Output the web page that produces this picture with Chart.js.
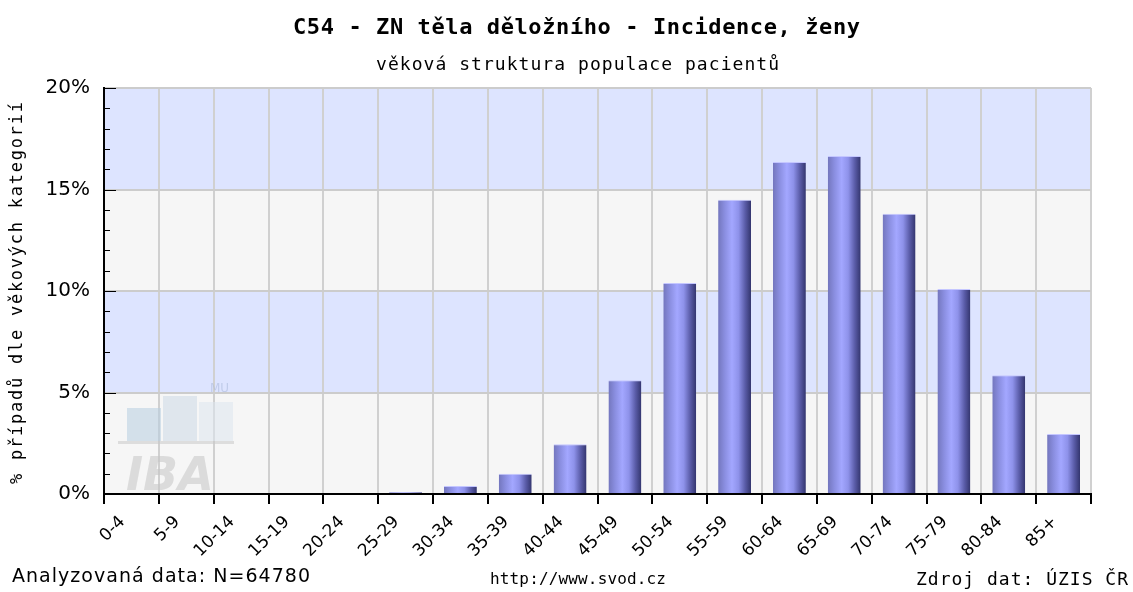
<!DOCTYPE html>
<html>
<head>
<meta charset="utf-8">
<script src="https://cdn.jsdelivr.net/npm/chart.js@4/dist/chart.umd.min.js"></script>
<style>
    html, body { margin: 0; padding: 0; background: #fff; }
    #wrap { width: 1133px; height: 592px; }
</style>
</head>
<body>
<div id="wrap"><canvas id="chart" width="1133" height="592"></canvas></div>
<script>
// age groups and share of cases (%)
const age_groups = ['0-4', '5-9', '10-14', '15-19', '20-24', '25-29', '30-34', '35-39', '40-44',
    '45-49', '50-54', '55-59', '60-64', '65-69', '70-74', '75-79', '80-84', '85+'];
const case_share = [0, 0, 0, 0, 0, 0.1, 0.4, 1.0, 2.45, 5.6, 10.4, 14.5, 16.35, 16.65, 13.8, 10.1, 5.85, 2.95];
const y_ticks = [0, 5, 10, 15, 20];

const chartTitle = 'C54 - ZN těla děložního - Incidence, ženy';
const chartSubtitle = 'věková struktura populace pacientů';
const yTitle = '% případů dle věkových kategorií';
const footLeft = 'Analyzovaná data: N=64780';
const footMid = 'http://www.svod.cz';
const footRight = 'Zdroj dat: ÚZIS ČR';

const mono = '"DejaVu Sans Mono", "Liberation Mono", monospace';
const sans = '"DejaVu Sans", Verdana, sans-serif';

// draw text char by char so it fills a given width (the original uses a wide bitmap font)
function spacedText(ctx, text, x, y, width) {
    const chars = Array.from(text);
    const widths = chars.map(c => ctx.measureText(c).width);
    const total = widths.reduce((a, b) => a + b, 0);
    const extra = chars.length > 1 ? (width - total) / (chars.length - 1) : 0;
    let cx = x;
    ctx.textAlign = 'left';
    chars.forEach((c, i) => {
        ctx.fillText(c, cx, y);
        cx += widths[i] + extra;
    });
}

// light grey / light blue bands behind the plot
const bandsPlugin = {
    id: 'bands',
    beforeDraw(chart) {
        const { ctx, chartArea, scales } = chart;
        ctx.save();
        for (let i = 0; i < y_ticks.length - 1; i++) {
            const y1 = scales.y.getPixelForValue(y_ticks[i]);
            const y2 = scales.y.getPixelForValue(y_ticks[i + 1]);
            ctx.fillStyle = i % 2 === 0 ? '#f6f6f6' : '#dde4ff';
            ctx.fillRect(chartArea.left, y2, chartArea.right - chartArea.left, y1 - y2);
        }
        ctx.restore();
    }
};

// IBA watermark + inner tick marks on y axis
const decoPlugin = {
    id: 'deco',
    beforeDatasetsDraw(chart) {
        const { ctx, chartArea, scales } = chart;
        ctx.save();
        ctx.globalAlpha = 0.55;
        ctx.fillStyle = '#b7cde0';
        ctx.fillRect(127, 408, 34, 33);
        ctx.fillStyle = '#ccd9e6';
        ctx.fillRect(163, 396, 34, 45);
        ctx.fillStyle = '#dde5ee';
        ctx.fillRect(199, 402, 34, 39);
        ctx.fillStyle = '#c8c8c8';
        ctx.fillRect(118, 441, 116, 3);
        ctx.fillStyle = '#c4c4c4';
        ctx.font = 'italic bold 46px ' + sans;
        ctx.textBaseline = 'alphabetic';
        ctx.fillText('IBA', 126, 490);
        ctx.fillStyle = '#aab8d8';
        ctx.font = '12px ' + sans;
        ctx.fillText('MU', 210, 392);
        ctx.restore();

        ctx.save();
        ctx.strokeStyle = '#000';
        ctx.lineWidth = 1;
        for (let v = 0; v <= 20; v++) {
            const y = Math.round(scales.y.getPixelForValue(v)) + 0.5;
            const len = v % 5 === 0 ? 12 : 6;
            ctx.beginPath();
            ctx.moveTo(chartArea.left, y);
            ctx.lineTo(chartArea.left + len, y);
            ctx.stroke();
        }
        ctx.restore();
    }
};

// titles, axis title and footer texts
const textPlugin = {
    id: 'texts',
    afterDraw(chart) {
        const ctx = chart.ctx;
        ctx.save();
        ctx.fillStyle = '#000';
        ctx.textBaseline = 'middle';

        ctx.font = 'bold 22px ' + mono;
        spacedText(ctx, chartTitle, 293, 28, 567);
        ctx.font = '18px ' + mono;
        spacedText(ctx, chartSubtitle, 376, 65, 403);

        ctx.save();
        ctx.translate(18, 484);
        ctx.rotate(-Math.PI / 2);
        ctx.font = '17px ' + mono;
        spacedText(ctx, yTitle, 0, 0, 382);
        ctx.restore();

        ctx.font = '19px ' + sans;
        spacedText(ctx, footLeft, 12, 577, 298);
        ctx.font = '16px ' + mono;
        spacedText(ctx, footMid, 490, 580, 176);
        ctx.font = '18px ' + mono;
        spacedText(ctx, footRight, 916, 580, 212);
        ctx.restore();
    }
};

function barGradient(context) {
    const chart = context.chart;
    const xs = chart.scales.x;
    if (!xs || !chart.chartArea) return '#9a9ef0';
    const x = xs.getPixelForValue(context.dataIndex);
    const w = (xs.width / age_groups.length) * 0.6;
    const g = chart.ctx.createLinearGradient(x - w / 2, 0, x + w / 2, 0);
    g.addColorStop(0, '#7376bd');
    g.addColorStop(0.2, '#8a8ee0');
    g.addColorStop(0.42, '#a3a7ff');
    g.addColorStop(0.62, '#8e92ea');
    g.addColorStop(0.82, '#5a5ca8');
    g.addColorStop(1, '#33356e');
    return g;
}

new Chart(document.getElementById('chart'), {
    type: 'bar',
    data: {
        labels: age_groups,
        datasets: [{
            data: case_share,
            backgroundColor: barGradient,
            borderColor: '#c4c6ff',
            borderWidth: { top: 1, left: 0, right: 0, bottom: 0 },
            borderSkipped: 'bottom',
            barPercentage: 0.6,
            categoryPercentage: 1.0
        }]
    },
    options: {
        responsive: false,
        animation: false,
        layout: { padding: { left: 0, right: 42, top: 88, bottom: 28 } },
        plugins: {
            legend: { display: false },
            tooltip: { enabled: false }
        },
        scales: {
            x: {
                grid: {
                    offset: true,
                    color: '#d0d0d0',
                    lineWidth: 2,
                    tickColor: '#000',
                    tickLength: 10,
                    tickWidth: 2
                },
                border: { color: '#000', width: 2 },
                ticks: {
                    autoSkip: false,
                    maxRotation: 45,
                    minRotation: 45,
                    color: '#000',
                    labelOffset: -9,
                    padding: 8,
                    font: { family: sans, size: 17 }
                },
                afterFit(scale) { scale.height = 70; }
            },
            y: {
                min: 0,
                max: 20,
                ticks: {
                    stepSize: 1,
                    autoSkip: false,
                    color: '#000',
                    padding: 14,
                    font: { family: sans, size: 20 },
                    callback: v => (v % 5 === 0 ? v + '%' : '')
                },
                grid: {
                    color: c => (c.tick && c.tick.value % 5 === 0 ? '#cccccc' : 'rgba(0,0,0,0)'),
                    lineWidth: 2,
                    drawTicks: false
                },
                border: { color: '#000', width: 2 },
                afterFit(scale) { scale.width = 104; }
            }
        }
    },
    plugins: [bandsPlugin, decoPlugin, textPlugin]
});
</script>
</body>
</html>
